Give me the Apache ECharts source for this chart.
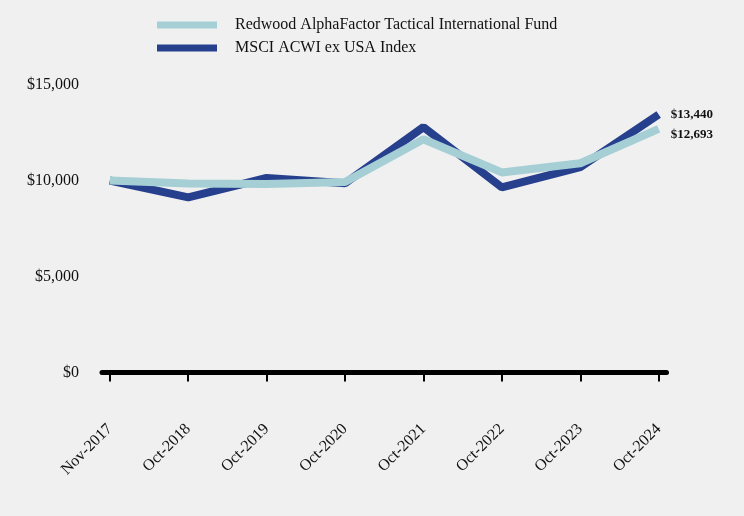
<!DOCTYPE html>
<html><head><meta charset="utf-8">
<script src="https://cdn.jsdelivr.net/npm/echarts@6/dist/echarts.min.js"></script>
<style>html,body{margin:0;padding:0;background:#F0F0F0;}#c{width:744px;height:516px;}</style>
</head><body><div id="c"></div>
<script>
var categories = ['Nov-2017','Oct-2018','Oct-2019','Oct-2020','Oct-2021','Oct-2022','Oct-2023','Oct-2024'];
var fundName = 'Redwood AlphaFactor Tactical International Fund';
var indexName = 'MSCI ACWI ex USA Index';
var fundValues = [10000, 9840, 9820, 9920, 12150, 10420, 10900, 12693];
var indexValues = [10000, 9120, 10130, 9860, 12780, 9640, 10700, 13440];
var yTicks = [0, 5000, 10000, 15000];

var FONT = "'Liberation Serif','Times New Roman',serif";
function pairs(vals){ return vals.map(function(v,i){ return [i, v]; }); }
function money(v){ return '$' + Math.round(v).toLocaleString('en-US'); }
var idx = categories.map(function(c,i){ return i; });

var chart = echarts.init(document.getElementById('c'));
chart.setOption({
  backgroundColor: '#F0F0F0',
  animation: false,
  textStyle: { fontFamily: FONT },
  legend: {
    orient: 'vertical', left: 152, top: 12, itemGap: 7,
    icon: 'rect', itemWidth: 60, itemHeight: 7,
    data: [fundName, indexName],
    textStyle: { fontFamily: FONT, fontSize: 16, color: '#111', padding: [0,0,0,13], lineHeight: 16 }
  },
  grid: { left: 102, right: 77.5, top: 84.5, bottom: 143.5, containLabel: false },
  xAxis: {
    type: 'value', min: -0.1, max: 7.1,
    axisLine: { show: true, onZero: false, lineStyle: { color: '#000', width: 5 } },
    axisTick: { show: true, customValues: idx, length: 9, lineStyle: { color: '#000', width: 2 } },
    splitLine: { show: false },
    axisLabel: {
      customValues: idx, rotate: 45, margin: 54, fontSize: 16, color: '#111', fontFamily: FONT,
      formatter: function(v){ return categories[Math.round(v)]; }
    }
  },
  yAxis: {
    type: 'value', min: 0, max: 15000, interval: 5000,
    axisLine: { show: false }, axisTick: { show: false }, splitLine: { show: false },
    axisLabel: { customValues: yTicks, margin: 23, fontSize: 16, color: '#111', fontFamily: FONT, formatter: money }
  },
  series: [
    {
      name: indexName, type: 'line', data: pairs(indexValues), symbol: 'none',
      lineStyle: { color: '#26408E', width: 8 }, itemStyle: { color: '#26408E' },
      endLabel: { show: true, distance: 12, offset: [0, 0], fontFamily: FONT, fontWeight: 'bold', fontSize: 13, color: '#111',
        formatter: function(p){ return money(p.value[1]); } },
      z: 2
    },
    {
      name: fundName, type: 'line', data: pairs(fundValues), symbol: 'none',
      lineStyle: { color: '#A5CFD5', width: 8 }, itemStyle: { color: '#A5CFD5' },
      endLabel: { show: true, distance: 12, offset: [0, 6], fontFamily: FONT, fontWeight: 'bold', fontSize: 13, color: '#111',
        formatter: function(p){ return money(p.value[1]); } },
      z: 3
    }
  ]
});
</script></body></html>
